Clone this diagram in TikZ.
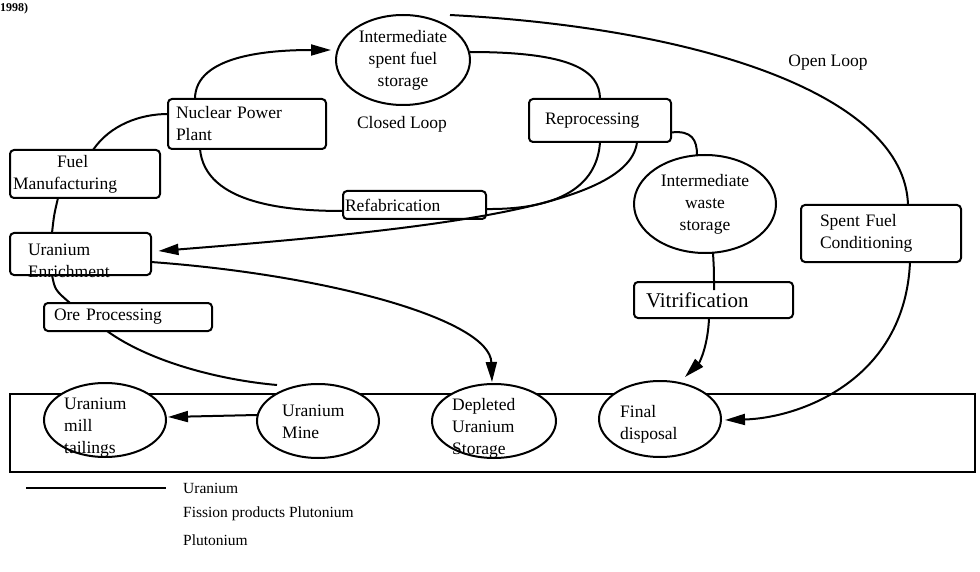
\documentclass[tikz,border=0pt]{standalone}
\usepackage{fontspec}
\setmainfont{Liberation Serif}
\usetikzlibrary{arrows.meta,calc,shapes.geometric}
\begin{document}
\begin{tikzpicture}[x=1pt,y=-1pt,
  every node/.style={font=\fontsize{17.5}{22}\selectfont},
  ln/.style={line width=2pt},
  arr/.style={ln,-{Triangle[length=20pt,width=11pt]}},
  bx/.style={draw,line width=2pt,rounded corners=4pt,inner ysep=0pt,align=left},
  el/.style={draw,ellipse,line width=2pt,fill=white,inner sep=0pt,align=left},
  lab/.style={inner sep=0pt,align=left}]
\useasboundingbox (0,0) rectangle (980,572);
\node[lab,anchor=west,font=\bfseries\fontsize{12}{14}\selectfont] (yr) at (0,8.5) {1998)};
% bottom frame
\node[draw,line width=2pt,minimum width=965pt,minimum height=78pt,inner sep=0pt] (frame) at (492.5,433) {};
% boxes
\node[bx,minimum height=50pt,text width=142pt,inner xsep=8pt] (npp) at (247,124) {Nuclear Power\\Plant};
\node[bx,minimum height=48pt,text width=144pt,inner xsep=3pt] (fm) at (85,174) {\hspace*{44pt}Fuel\\Manufacturing};
\node[bx,minimum height=28pt,text width=139pt,inner xsep=2pt] (refab) at (414.5,205) {Refabrication};
\node[bx,minimum height=43pt,text width=110pt,inner xsep=16pt] (repro) at (600,120.5) {Reprocessing};
\node[bx,minimum height=57pt,text width=122pt,inner xsep=19pt] (sfc) at (881,233.5) {Spent Fuel\\Conditioning};
\node[bx,minimum height=42pt,text width=105pt,inner xsep=18pt,text depth=9pt] (ue) at (80.5,254) {Uranium\\Enrichment};
\node[bx,minimum height=28pt,text width=148pt,inner xsep=10pt] (ore) at (128,317) {Ore Processing};
\node[bx,minimum height=36pt,text width=135pt,inner xsep=12pt,font=\fontsize{21}{24}\selectfont] (vit) at (713.5,300) {Vitrification};
% ellipses
\node[el,minimum width=134pt,minimum height=90pt,align=center] (isfs) at (403,60) {Intermediate\\spent fuel\\storage};
\node[el,minimum width=142pt,minimum height=98pt,align=center] (iws) at (705,204) {Intermediate\\waste\\storage};
\node[el,minimum width=122pt,minimum height=74pt] (tail) at (105,420) {};
\node[lab,anchor=north west] (tailt) at (64,398) {Uranium\\mill\\tailings};
\node[el,minimum width=122pt,minimum height=74pt] (mine) at (318,421) {};
\node[lab,anchor=north west] (minet) at (282,405) {Uranium\\Mine};
\node[el,minimum width=124pt,minimum height=74pt] (dus) at (494,421) {};
\node[lab,anchor=north west] (dust) at (452,398) {Depleted\\Uranium\\Storage};
\node[el,minimum width=122pt,minimum height=76pt] (fd) at (660,419) {};
\node[lab,anchor=north west] (fdt) at (620,405) {Final\\disposal};
% labels
\node[lab] (closed) at (402,124) {Closed Loop};
\node[lab] (open) at (828,63) {Open Loop};
% connectors
\draw[ln] ($(isfs)+(47,-45)$) .. controls (700,28) and (905,95) .. ($(sfc)+(27,-28.5)$);
\draw[ln] ($(isfs)+(67,-8)$) .. controls (570,52) and (600,70) .. ($(repro)+(0,-21.5)$);
\draw[arr] ($(npp)+(-52,-25)$) .. controls (195,55) and (270,50) .. ($(isfs)+(-72,-10)$);
\draw[ln] ($(fm)+(8,-24)$) .. controls (110,125) and (140,114) .. ($(npp)+(-79,-10)$);
\draw[ln] ($(npp)+(-47,25)$) .. controls (205,205) and (290,211) .. ($(refab)+(-71.5,6)$);
\draw[ln] ($(refab)+(71.5,4)$) .. controls (575,210) and (598,175) .. ($(repro)+(0,21.5)$);
\draw[arr] ($(repro)+(37,21.5)$) .. controls (630,205) and (450,228) .. ($(ue)+(78,-3)$);
\draw[ln] ($(repro)+(71,12)$) .. controls (692,130) and (697,140) .. ($(iws)+(-8,-49)$);
\draw[ln] ($(iws)+(8,49)$) .. controls (714,270) .. ($(vit)+(0.5,-10)$);
\draw[arr] ($(vit)+(-4.5,18)$) .. controls (708,345) and (700,362) .. ($(fd)+(25,-42)$);
\draw[arr] ($(sfc)+(29,28.5)$) .. controls (905,380) and (800,418) .. ($(fd)+(65,1)$);
\draw[arr] ($(ue)+(70.5,8)$) .. controls (330,275) and (490,320) .. ($(dus)+(-2,-39)$);
\draw[ln] ($(ue)+(-28.5,21)$) .. controls (55,290) .. ($(ore)+(-58,-14)$);
\draw[ln] ($(ore)+(-21,14)$) .. controls (150,362) and (220,380) .. ($(mine)+(-41,-36)$);
\draw[ln] ($(fm)+(-27,24)$) .. controls (54,215) .. ($(ue)+(-28.5,-21)$);
\draw[arr] ($(mine)+(-61,-6)$) -- ($(tail)+(63,-3)$);
% legend
\coordinate (l1) at (26,488);
\coordinate (l2) at (166,488);
\draw[ln] (l1) -- (l2);
\begin{scope}[every node/.style={font=\fontsize{15.5}{18}\selectfont,inner sep=0pt,anchor=west}]
\node (lg1) at (183,488) {Uranium};
\node (lg2) at (183,514) {Fission products Plutonium};
\node (lg3) at (183,540) {Plutonium};
\end{scope}
\end{tikzpicture}
\end{document}
